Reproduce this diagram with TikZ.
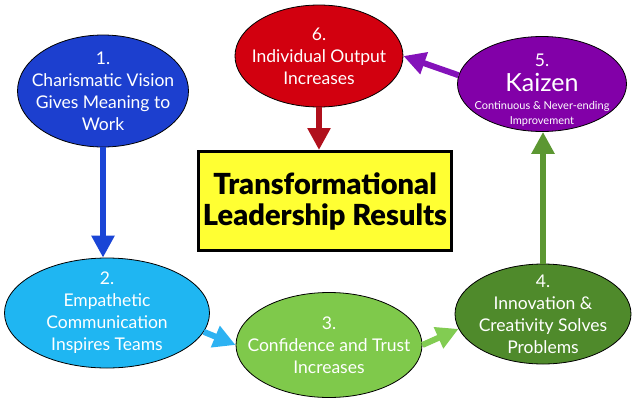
\documentclass[tikz,border=0pt]{standalone}
\usepackage{fontspec}
\setmainfont{Lato}
\newfontfamily\blackfont{Lato Black}
\usetikzlibrary{shapes.geometric,arrows.meta}
\definecolor{cBlue}{HTML}{1C3FCF}
\definecolor{cRed}{HTML}{D2000F}
\definecolor{cPurple}{HTML}{8200A8}
\definecolor{cCyan}{HTML}{1FB6F2}
\definecolor{cLgreen}{HTML}{7FC94B}
\definecolor{cDgreen}{HTML}{4F8A2B}
\definecolor{aBlue}{HTML}{1A45D6}
\definecolor{aRed}{HTML}{B0101C}
\definecolor{aPurple}{HTML}{8412BA}
\definecolor{aCyan}{HTML}{2DB2F2}
\definecolor{aLgreen}{HTML}{82CC52}
\definecolor{aDgreen}{HTML}{5C9732}
\definecolor{cYellow}{HTML}{FFFF33}
\newcommand{\bigsz}{\fontsize{25}{27}\selectfont}
\newcommand{\smallsz}{\fontsize{11}{13}\selectfont}
\tikzset{
  stage/.style={ellipse, draw=black, line width=0.8pt, inner sep=0pt},
  stagetext/.style={text=white, align=center, inner sep=0pt,
    font=\fontsize{17.5}{22}\selectfont},
  flow/.style={line width=6pt, -{Triangle[width=22pt,length=22pt]}},
  titlebox/.style={draw=black, line width=3pt, fill=cYellow, inner sep=0pt,
    minimum width=253pt, minimum height=99pt, align=center,
    font=\fontsize{29}{31}\selectfont\blackfont}
}
\begin{document}
\begin{tikzpicture}[x=1pt,y=-1pt]
\fill[white] (0,0) rectangle (640,402);
\useasboundingbox (0,0) rectangle (640,402);
\node[stage, fill=cBlue, minimum width=171pt, minimum height=112pt] (e1) at (103,91) {};
\node[stagetext] (t1) at (e1.center) {1.\\Charismatic Vision\\Gives Meaning to\\Work};
\node[stage, fill=cCyan, minimum width=205pt, minimum height=110pt] (e2) at (107,313) {};
\node[stagetext] (t2) at (e2.center) {2.\\Empathetic\\Communication\\Inspires Teams};
\node[stage, fill=cLgreen, minimum width=186pt, minimum height=105pt] (e3) at (329,345) {};
\node[stagetext] (t3) at (e3.center) {3.\\Confidence and Trust\\Increases};
\node[stage, fill=cDgreen, minimum width=176pt, minimum height=100pt] (e4) at (543,314) {};
\node[stagetext] (t4) at (e4.center) {4.\\Innovation \&\\Creativity Solves\\Problems};
\node[stage, fill=cPurple, minimum width=169pt, minimum height=95pt] (e5) at (542,84) {};
\node[stagetext] (t5) at ([yshift=-7pt]e5.center)
  {\begin{tabular}{@{}c@{}}5.\\[0pt]\bigsz Kaizen\\[-4pt]\smallsz Continuous \& Never-ending\\[-7pt]\smallsz Improvement\end{tabular}};
\node[stage, fill=cRed, minimum width=168pt, minimum height=102pt] (e6) at (319,56) {};
\node[stagetext] (t6) at (e6.center) {6.\\Individual Output\\Increases};
\node[titlebox] (box) at (325,201) {Transformational\\Leadership Results};
\draw[flow, aBlue] (e1.south) -- (e1.south |- e2.north);
\draw[flow, aCyan] (e2.-11) -- (e3.west);
\draw[flow, aLgreen] (e3.east) -- (e4.190);
\draw[flow, aDgreen] (e4.north) -- (e4.north |- e5.south);
\draw[flow, aPurple] (e5.174) -- (e6.east);
\draw[flow, aRed] (e6.south) -- (e6.south |- box.north);
\end{tikzpicture}
\end{document}
